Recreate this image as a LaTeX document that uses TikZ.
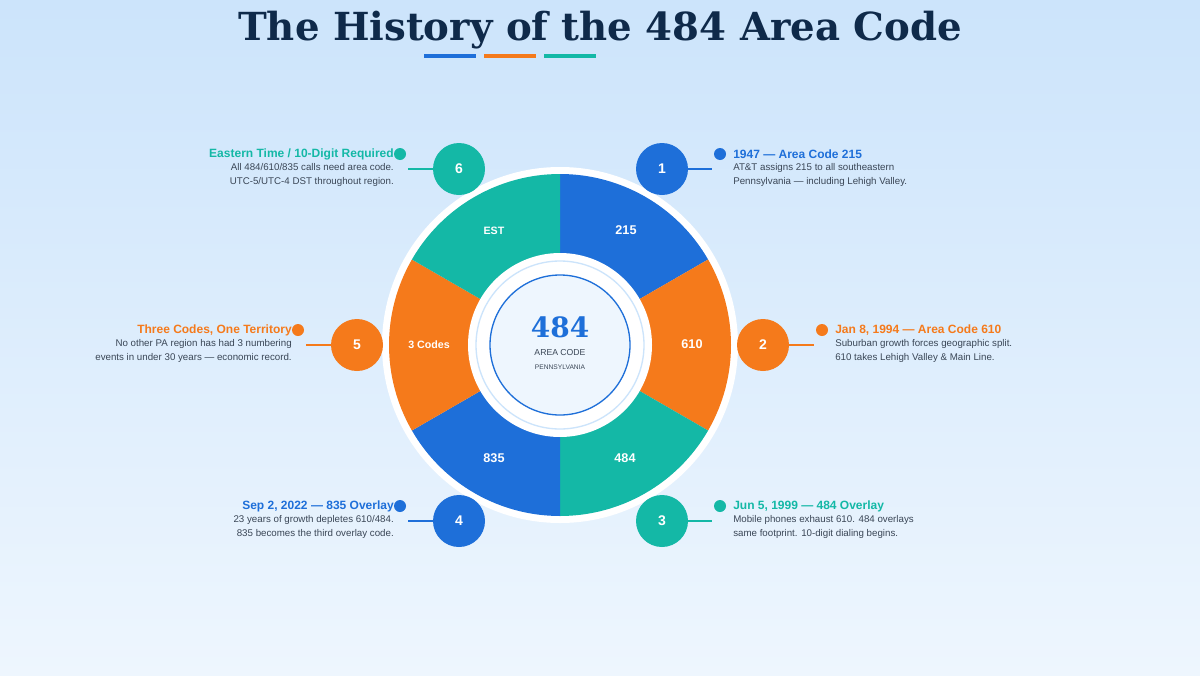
\documentclass[tikz,border=0pt]{standalone}
\usepackage{fontspec}
\setmainfont{Liberation Sans}
\newfontfamily\titlefont{DejaVu Serif}
\usetikzlibrary{positioning}
\definecolor{acblue}{HTML}{1E6FD9}
\definecolor{acorange}{HTML}{F57A1B}
\definecolor{acteal}{HTML}{14B8A6}
\definecolor{acnavy}{HTML}{0F2A4A}
\definecolor{actext}{HTML}{3A4656}
\definecolor{bgtop}{HTML}{CCE4FB}
\definecolor{bgbot}{HTML}{EEF6FE}
\tikzset{
  stepnum/.style={circle,minimum size=39pt,inner sep=0pt,text=white,font=\bfseries\fontsize{10.5}{12}\selectfont},
  dot/.style={circle,minimum size=9pt,inner sep=0pt},
  head/.style={font=\bfseries\fontsize{9}{10}\selectfont,inner sep=0pt},
  body/.style={font=\fontsize{7.3}{10.5}\selectfont,text=actext,inner sep=0pt},
  seglabel/.style={text=white,font=\bfseries\fontsize{9.5}{11}\selectfont},
}
\begin{document}
\begin{tikzpicture}[x=0.75pt,y=0.75pt,yscale=-1]
%Background
\shade[top color=bgtop,bottom color=bgbot] (0,0) rectangle (1200,675);
\useasboundingbox (0,0) rectangle (1200,675);

%Title
\node[font=\titlefont\bfseries\fontsize{29}{34}\selectfont,text=acnavy] (title) at (600,30) {The History of the 484 Area Code};
\draw[acblue,line width=3pt] (424,56) -- (476,56);
\draw[acorange,line width=3pt] (484,56) -- (536,56);
\draw[acteal,line width=3pt] (544,56) -- (596,56);

%Wheel
\fill[white] (560,345) circle (178);
\fill[acblue] (560,345) -- ++(-90:171) arc[start angle=-90,end angle=-30,radius=171] -- cycle;
\fill[acorange] (560,345) -- ++(-30:171) arc[start angle=-30,end angle=30,radius=171] -- cycle;
\fill[acteal] (560,345) -- ++(30:171) arc[start angle=30,end angle=90,radius=171] -- cycle;
\fill[acblue] (560,345) -- ++(90:171) arc[start angle=90,end angle=150,radius=171] -- cycle;
\fill[acorange] (560,345) -- ++(150:171) arc[start angle=150,end angle=210,radius=171] -- cycle;
\fill[acteal] (560,345) -- ++(210:171) arc[start angle=210,end angle=270,radius=171] -- cycle;
\fill[white] (560,345) circle (92);
\draw[bgtop,line width=1pt] (560,345) circle (84);
\draw[acblue,fill=bgbot,line width=1pt] (560,345) circle (70);

\node[seglabel] (s215) at (626,230) {215};
\node[seglabel] (s610) at (692,344) {610};
\node[seglabel] (s484) at (625,458) {484};
\node[seglabel] (s835) at (494,458) {835};
\node[seglabel,font=\bfseries\fontsize{8}{10}\selectfont] (s3) at (429,345) {3 Codes};
\node[seglabel,font=\bfseries\fontsize{8}{10}\selectfont] (sest) at (494,231) {EST};

%Center
\node[font=\titlefont\bfseries\fontsize{21}{24}\selectfont,text=acblue] (code) at (560,327) {484};
\node[font=\fontsize{6.5}{8}\selectfont,text=actext] (ac) at (560,353) {AREA CODE};
\node[font=\fontsize{5}{6}\selectfont,text=actext] (pa) at (560,367) {PENNSYLVANIA};

%Steps
\node[stepnum,fill=acblue] (n1) at (662,169) {1};
\node[stepnum,fill=acorange] (n2) at (763,345) {2};
\node[stepnum,fill=acteal] (n3) at (662,521) {3};
\node[stepnum,fill=acblue] (n4) at (459,521) {4};
\node[stepnum,fill=acorange] (n5) at (357,345) {5};
\node[stepnum,fill=acteal] (n6) at (459,169) {6};

\coordinate (e1) at (712,169);
\coordinate (e2) at (814,345);
\coordinate (e3) at (712,521);
\coordinate (e4) at (408,521);
\coordinate (e5) at (306,345);
\coordinate (e6) at (408,169);
\draw[acblue,line width=1.2pt] (n1) -- (e1);
\draw[acorange,line width=1.2pt] (n2) -- (e2);
\draw[acteal,line width=1.2pt] (n3) -- (e3);
\draw[acblue,line width=1.2pt] (n4) -- (e4);
\draw[acorange,line width=1.2pt] (n5) -- (e5);
\draw[acteal,line width=1.2pt] (n6) -- (e6);

\node[dot,fill=acblue] (d1) at (720,154) {};
\node[dot,fill=acorange] (d2) at (822,330) {};
\node[dot,fill=acteal] (d3) at (720,506) {};
\node[dot,fill=acblue] (d4) at (400,506) {};
\node[dot,fill=acorange] (d5) at (298,330) {};
\node[dot,fill=acteal] (d6) at (400,154) {};

%Right texts
\node[head,text=acblue,anchor=west] (h1) at (733,154) {1947 — Area Code 215};
\node[body,anchor=north west,align=left] (b1) at (733,163) {AT\&T assigns 215 to all southeastern\\Pennsylvania — including Lehigh Valley.};
\node[head,text=acorange,anchor=west] (h2) at (835,330) {Jan 8, 1994 — Area Code 610};
\node[body,anchor=north west,align=left] (b2) at (835,339) {Suburban growth forces geographic split.\\610 takes Lehigh Valley \& Main Line.};
\node[head,text=acteal,anchor=west] (h3) at (733,506) {Jun 5, 1999 — 484 Overlay};
\node[body,anchor=north west,align=left] (b3) at (733,515) {Mobile phones exhaust 610. 484 overlays\\same footprint. 10-digit dialing begins.};

%Left texts
\node[head,text=acblue,anchor=east] (h4) at (394,506) {Sep 2, 2022 — 835 Overlay};
\node[body,anchor=north east,align=right] (b4) at (394,515) {23 years of growth depletes 610/484.\\835 becomes the third overlay code.};
\node[head,text=acorange,anchor=east] (h5) at (292,330) {Three Codes, One Territory};
\node[body,anchor=north east,align=right] (b5) at (292,339) {No other PA region has had 3 numbering\\events in under 30 years — economic record.};
\node[head,text=acteal,anchor=east] (h6) at (394,154) {Eastern Time / 10-Digit Required};
\node[body,anchor=north east,align=right] (b6) at (394,163) {All 484/610/835 calls need area code.\\UTC-5/UTC-4 DST throughout region.};
\end{tikzpicture}
\end{document}
